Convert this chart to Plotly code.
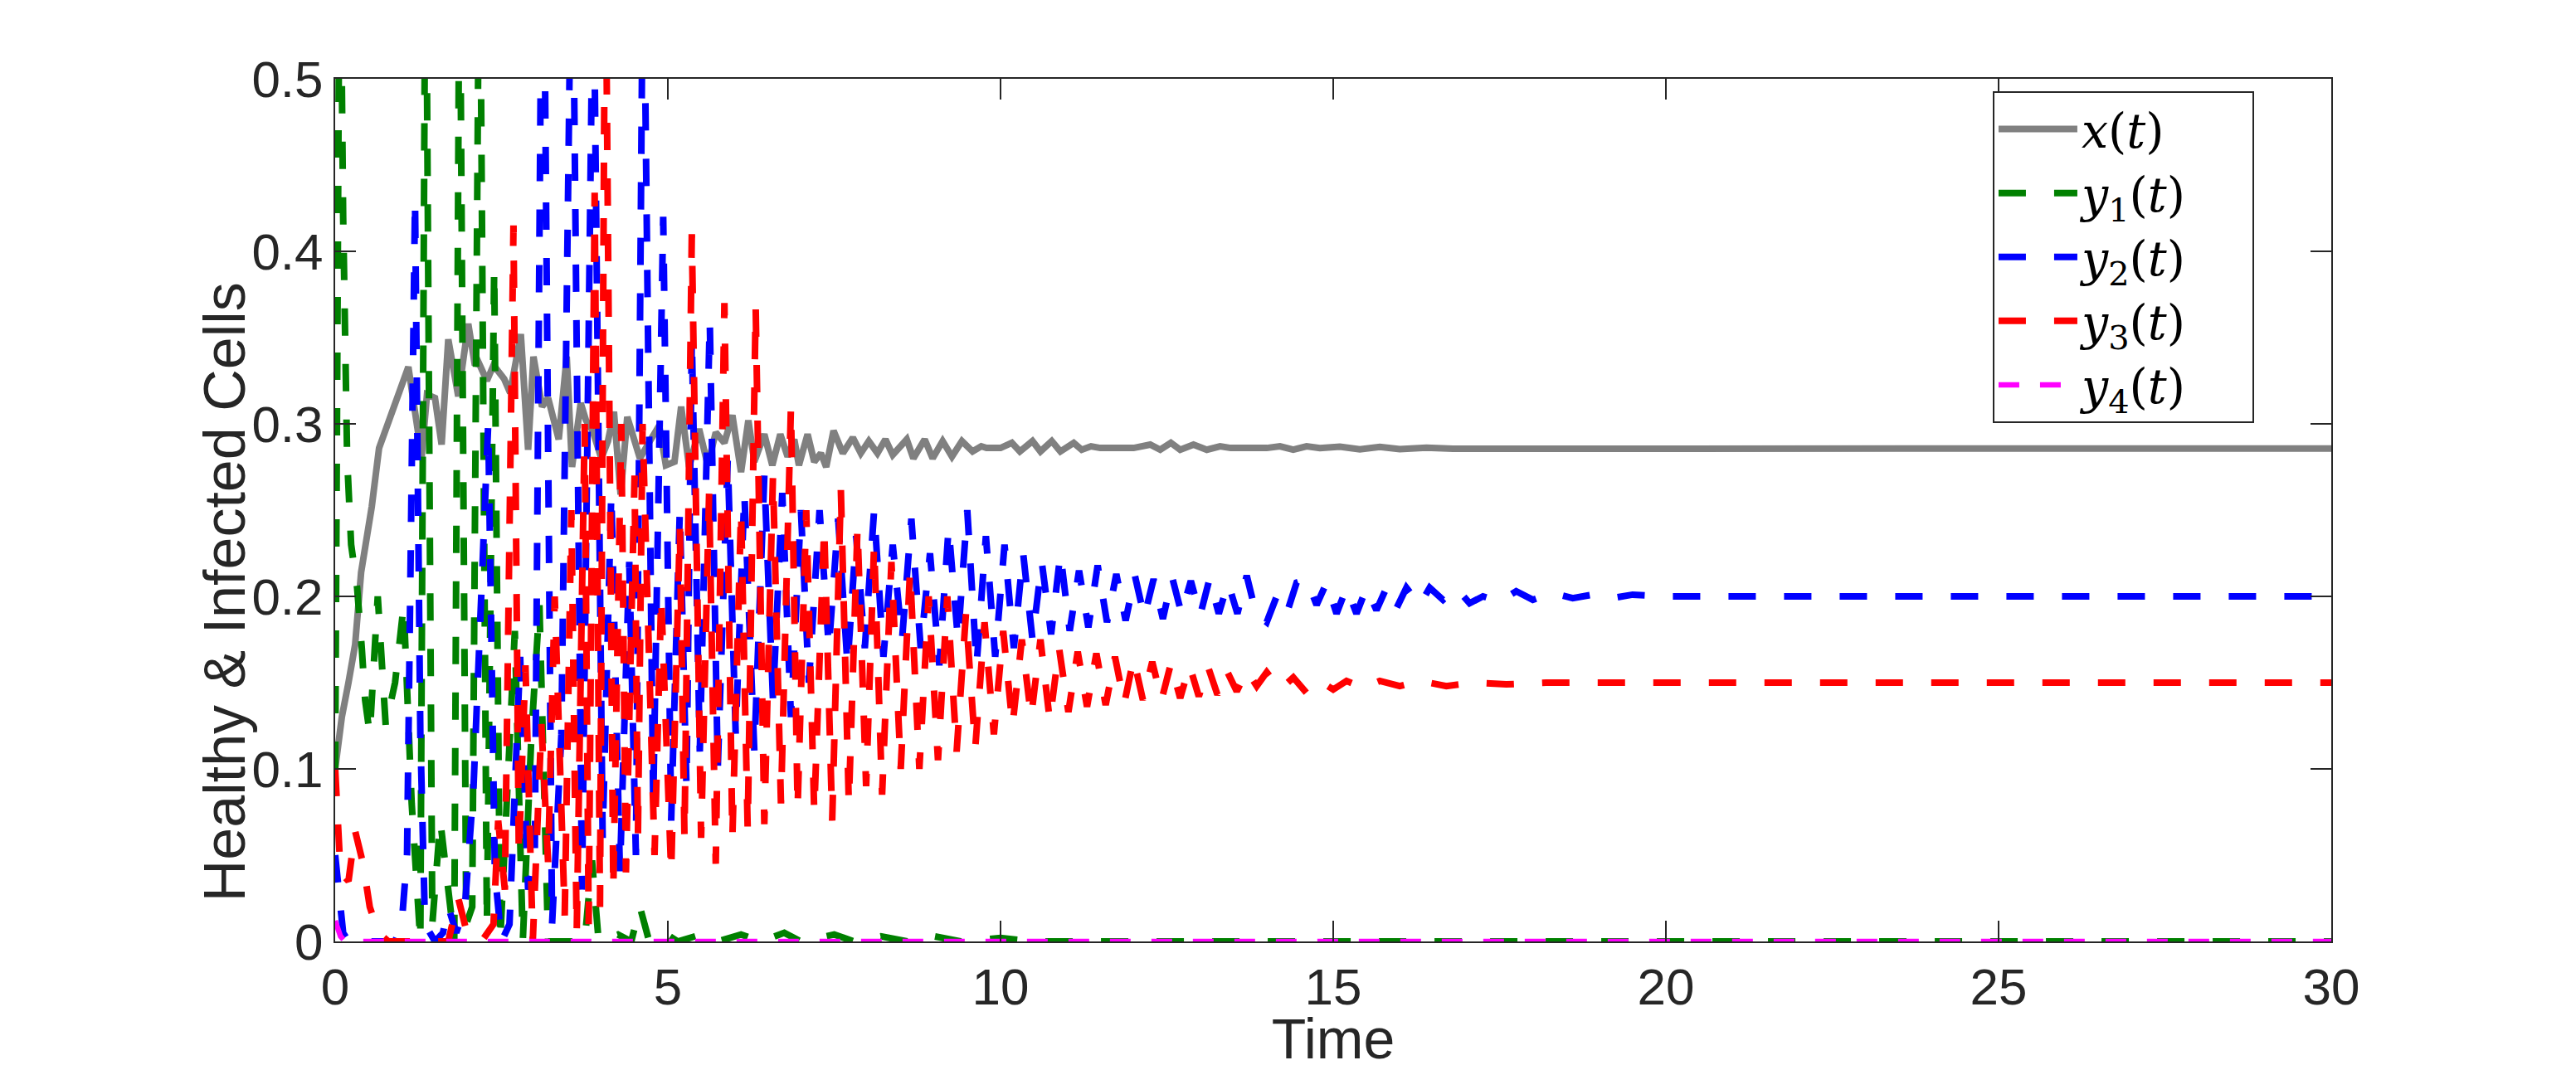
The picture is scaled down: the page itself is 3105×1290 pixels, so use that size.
import plotly.graph_objects as go

# ---------------- data ----------------
X_T = [0.0, 0.1, 0.2, 0.3, 0.39, 0.55, 0.66, 0.79, 0.89, 1.1,
       1.3, 1.38, 1.5, 1.6, 1.7, 1.85, 2.0, 2.1, 2.15, 2.28,
       2.38, 2.54, 2.63, 2.79, 2.9, 2.98, 3.11, 3.2, 3.36, 3.48,
       3.56, 3.69, 3.77, 3.87, 4.0, 4.1, 4.19, 4.29, 4.39, 4.58,
       4.73, 4.87, 4.97, 5.1, 5.2, 5.32, 5.47, 5.6, 5.72, 5.85,
       5.97, 6.1, 6.21, 6.3, 6.45, 6.57, 6.69, 6.8, 6.9, 6.97,
       7.1, 7.2, 7.3, 7.38, 7.49, 7.63, 7.78, 7.9, 8.02, 8.15,
       8.27, 8.38, 8.59, 8.69, 8.86, 8.98, 9.13, 9.27, 9.42, 9.58,
       9.71, 9.79, 10.0, 10.17, 10.29, 10.48, 10.6, 10.77, 10.9, 11.1,
       11.22, 11.36, 11.5, 12.0, 12.25, 12.4, 12.56, 12.7, 12.9, 13.1,
       13.3, 13.46, 14.0, 14.2, 14.4, 14.6, 14.8, 15.1, 15.4, 15.7,
       16.0, 16.4, 16.8, 30.0]
X_V = [0.1, 0.13, 0.15, 0.172, 0.214, 0.252, 0.286, 0.3, 0.309, 0.333,
       0.281, 0.317, 0.315, 0.288, 0.349, 0.316, 0.358, 0.334, 0.336, 0.325,
       0.334, 0.326, 0.318, 0.352, 0.285, 0.339, 0.31, 0.315, 0.291, 0.339,
       0.275, 0.312, 0.302, 0.296, 0.28, 0.29, 0.307, 0.259, 0.304, 0.28,
       0.29, 0.299, 0.276, 0.278, 0.31, 0.275, 0.297, 0.276, 0.295, 0.289,
       0.305, 0.272, 0.302, 0.278, 0.294, 0.276, 0.294, 0.281, 0.291, 0.276,
       0.294, 0.278, 0.283, 0.275, 0.296, 0.283, 0.292, 0.283, 0.29, 0.283,
       0.291, 0.282, 0.291, 0.28, 0.291, 0.28, 0.29, 0.281, 0.29, 0.284,
       0.287, 0.286, 0.286, 0.289, 0.284, 0.29, 0.284, 0.29, 0.284, 0.289,
       0.285, 0.287, 0.286, 0.286, 0.288, 0.285, 0.289, 0.285, 0.288, 0.285,
       0.287, 0.286, 0.286, 0.287, 0.285, 0.287, 0.286, 0.2868, 0.2852, 0.2866,
       0.2853, 0.2862, 0.2856, 0.2857]

Y1_T = [0.0, 0.04, 0.07, 0.12, 0.18, 0.24, 0.33, 0.4, 0.45, 0.52,
        0.64, 0.76, 0.9, 1.03, 1.15, 1.28, 1.36, 1.46, 1.58, 1.7,
        1.79, 1.87, 1.97, 2.06, 2.17, 2.28, 2.39, 2.48, 2.6, 2.7,
        2.82, 2.95, 3.07, 3.2, 3.75, 3.86, 3.96, 4.25, 4.45, 4.58,
        4.72, 4.95, 5.15, 5.5, 5.75, 6.1, 6.4, 6.75, 7.0, 7.5,
        7.8, 8.2, 8.6, 9.0, 9.4, 10.0, 10.5, 30.0]
Y1_V = [0.1, 0.45, 0.62, 0.42, 0.28, 0.23, 0.205, 0.17, 0.14, 0.12,
        0.2, 0.125, 0.15, 0.195, 0.08, 0.0, 0.62, 0.01, 0.07, 0.03,
        0.0, 0.6, 0.01, 0.02, 0.62, 0.01, 0.39, 0.0, 0.1, 0.18,
        0.0, 0.12, 0.195, 0.0, 0.0, 0.047, 0.0, 0.004, 0.0, 0.02,
        0.0, 0.005, 0.0, 0.004, 0.0, 0.004, 0.0, 0.005, 0.0, 0.004,
        0.0, 0.003, 0.0, 0.003, 0.0, 0.002, 0.0, 0.0]

Y2_T = [0.0, 0.06, 0.12, 0.2, 0.9, 1.0, 1.08, 1.2, 1.28, 1.35,
        1.5, 1.62, 1.7, 1.82, 1.95, 2.08, 2.3, 2.4, 2.5, 2.62,
        2.78, 2.9, 3.0, 3.12, 3.26, 3.4, 3.56, 3.71, 3.88, 4.02,
        4.15, 4.28, 4.42, 4.52, 4.63, 4.78, 4.93, 5.05, 5.18, 5.28,
        5.36, 5.48, 5.63, 5.75, 5.9, 6.02, 6.15, 6.3, 6.45, 6.58,
        6.72, 6.85, 7.0, 7.12, 7.28, 7.42, 7.56, 7.7, 7.83, 7.96,
        8.1, 8.24, 8.38, 8.52, 8.66, 8.8, 8.94, 9.08, 9.22, 9.36,
        9.5, 9.64, 9.78, 9.92, 10.06, 10.2, 10.34, 10.48, 10.62, 10.76,
        10.9, 11.04, 11.18, 11.32, 11.46, 11.6, 11.74, 11.88, 12.02, 12.16,
        12.3, 12.44, 12.58, 12.72, 12.86, 13.0, 13.14, 13.28, 13.42, 13.56,
        13.7, 13.84, 14.0, 14.15, 14.3, 14.45, 14.6, 14.75, 14.9, 15.05,
        15.2, 15.35, 15.5, 15.65, 15.8, 15.95, 16.1, 16.3, 16.45, 16.65,
        16.85, 17.05, 17.25, 17.5, 17.75, 18.0, 18.3, 18.6, 18.9, 19.2,
        19.5, 20.0, 30.0]
Y2_V = [0.05, 0.03, 0.005, 0.0, 0.0, 0.01, 0.05, 0.43, 0.12, 0.01,
        0.0, 0.005, 0.02, 0.005, 0.02, 0.09, 0.3, 0.04, 0.0, 0.01,
        0.165, 0.03, 0.05, 0.66, 0.01, 0.12, 0.62, 0.03, 0.58, 0.06,
        0.26, 0.04, 0.22, 0.05, 0.6, 0.08, 0.42, 0.07, 0.25, 0.09,
        0.35, 0.11, 0.36, 0.1, 0.28, 0.12, 0.26, 0.11, 0.27, 0.14,
        0.26, 0.13, 0.25, 0.15, 0.25, 0.17, 0.245, 0.16, 0.235, 0.17,
        0.25, 0.165, 0.23, 0.175, 0.245, 0.17, 0.225, 0.16, 0.24, 0.175,
        0.25, 0.16, 0.235, 0.165, 0.23, 0.17, 0.225, 0.175, 0.22, 0.178,
        0.225, 0.18, 0.215, 0.182, 0.218, 0.185, 0.213, 0.186, 0.212, 0.188,
        0.21, 0.187, 0.211, 0.19, 0.209, 0.189, 0.21, 0.19, 0.208, 0.19,
        0.212, 0.19, 0.185, 0.2, 0.19, 0.208, 0.21, 0.195, 0.208, 0.19,
        0.205, 0.19, 0.205, 0.192, 0.205, 0.193, 0.205, 0.195, 0.205, 0.198,
        0.205, 0.196, 0.2, 0.197, 0.203, 0.198, 0.202, 0.199, 0.201, 0.199,
        0.201, 0.2, 0.2]

Y3_T = [0.0, 0.04, 0.08, 0.2, 0.3, 0.42, 0.52, 0.65, 0.8, 1.7,
        1.85, 1.98, 2.2, 2.38, 2.45, 2.55, 2.68, 2.76, 2.86, 2.97,
        3.1, 3.2, 3.3, 3.45, 3.55, 3.63, 3.75, 3.81, 3.9, 3.98,
        4.06, 4.18, 4.3, 4.37, 4.5, 4.55, 4.62, 4.8, 4.9, 5.05,
        5.18, 5.25, 5.36, 5.5, 5.62, 5.72, 5.85, 5.97, 6.1, 6.2,
        6.32, 6.45, 6.58, 6.7, 6.85, 6.95, 7.08, 7.2, 7.35, 7.47,
        7.6, 7.72, 7.85, 7.98, 8.1, 8.22, 8.36, 8.5, 8.64, 8.78,
        8.92, 9.06, 9.2, 9.34, 9.48, 9.62, 9.76, 9.9, 10.04, 10.18,
        10.32, 10.46, 10.6, 10.74, 10.88, 11.02, 11.16, 11.3, 11.44, 11.58,
        11.72, 11.86, 12.0, 12.14, 12.28, 12.42, 12.56, 12.7, 12.84, 12.98,
        13.12, 13.26, 13.4, 13.55, 13.7, 13.85, 14.0, 14.2, 14.4, 14.6,
        14.8, 15.0, 15.2, 15.45, 15.7, 16.0, 16.3, 16.7, 17.1, 17.6,
        18.2, 30.0]
Y3_V = [0.1, 0.06, 0.04, 0.035, 0.064, 0.045, 0.02, 0.005, 0.0, 0.0,
        0.025, 0.005, 0.0, 0.01, 0.07, 0.03, 0.415, 0.05, 0.16, 0.0,
        0.126, 0.046, 0.2, 0.015, 0.25, 0.005, 0.3, 0.01, 0.434, 0.02,
        0.6, 0.03, 0.3, 0.04, 0.27, 0.06, 0.3, 0.05, 0.2, 0.04,
        0.24, 0.06, 0.41, 0.06, 0.26, 0.045, 0.37, 0.06, 0.25, 0.065,
        0.368, 0.068, 0.27, 0.08, 0.31, 0.077, 0.25, 0.075, 0.24, 0.07,
        0.262, 0.08, 0.24, 0.09, 0.23, 0.085, 0.22, 0.1, 0.215, 0.1,
        0.2, 0.105, 0.2, 0.11, 0.19, 0.112, 0.185, 0.12, 0.18, 0.125,
        0.175, 0.13, 0.175, 0.128, 0.17, 0.133, 0.168, 0.136, 0.167, 0.137,
        0.165, 0.138, 0.164, 0.14, 0.162, 0.14, 0.161, 0.141, 0.16, 0.142,
        0.159, 0.143, 0.157, 0.145, 0.157, 0.148, 0.156, 0.146, 0.153, 0.144,
        0.151, 0.146, 0.151, 0.147, 0.151, 0.148, 0.151, 0.148, 0.15, 0.149,
        0.15, 0.15]

Y4_T = [0.0, 0.08, 0.15, 30.0]
Y4_V = [0.012, 0.003, 0.0, 0.0]

X_TICKS = [0, 5, 10, 15, 20, 25, 30]
Y_TICKS = [0, 0.1, 0.2, 0.3, 0.4, 0.5]
Y_TICK_LABELS = ["0", "0.1", "0.2", "0.3", "0.4", "0.5"]

NAMES = ["<i>x</i>(<i>t</i>)", "<i>y</i><sub>1</sub>(<i>t</i>)",
         "<i>y</i><sub>2</sub>(<i>t</i>)", "<i>y</i><sub>3</sub>(<i>t</i>)",
         "<i>y</i><sub>4</sub>(<i>t</i>)"]
X_TITLE = "Time"
Y_TITLE = "Healthy & Infected Cells"

# ---------------- figure ----------------
AXC = "#262626"
SANS = "Liberation Sans, Arial, sans-serif"
DASH = "33px,34px"
PAD = "\u00a0" * 4  # widens the legend box like the reference

fig = go.Figure()
series = [
    (X_T, X_V, "#808080", "solid", 8),
    (Y1_T, Y1_V, "#008000", DASH, 8),
    (Y2_T, Y2_V, "#0000FF", DASH, 8),
    (Y3_T, Y3_V, "#FF0000", DASH, 8),
    (Y4_T, Y4_V, "#FF00FF", "25px,25px", 6.5),
]
for (t, v, c, d, w), name in zip(series, NAMES):
    assert len(t) == len(v)
    fig.add_trace(go.Scatter(x=t, y=v, mode="lines", name=name + PAD,
                             line=dict(color=c, dash=d, width=w)))

axis_common = dict(
    showline=True, linecolor=AXC, linewidth=2, mirror="allticks",
    ticks="inside", ticklen=25, tickwidth=2, tickcolor=AXC,
    showgrid=False, zeroline=False,
    tickfont=dict(family=SANS, size=62, color=AXC),
)

fig.update_xaxes(range=[0, 30], tickvals=X_TICKS, **axis_common,
                 title=dict(text=X_TITLE, standoff=18,
                            font=dict(family=SANS, size=68, color=AXC)))
fig.update_yaxes(range=[0, 0.5], tickvals=Y_TICKS, ticktext=Y_TICK_LABELS, **axis_common)

fig.add_annotation(text=Y_TITLE, textangle=-90, xref="paper", yref="paper",
                   x=-0.0555, y=0.405, xanchor="center", yanchor="middle",
                   showarrow=False, font=dict(family=SANS, size=70, color=AXC))

fig.update_layout(
    width=3105, height=1290,
    margin=dict(l=404, r=295, t=95, b=155, autoexpand=False),
    paper_bgcolor="white", plot_bgcolor="white",
    showlegend=True,
    legend=dict(x=0.8304, y=0.9856, xanchor="left", yanchor="top",
                bgcolor="white", bordercolor=AXC, borderwidth=2,
                font=dict(family="DejaVu Serif, Liberation Serif, serif", size=57, color="black"),
                itemwidth=95, tracegroupgap=0),
)

fig.write_html("out.html")
